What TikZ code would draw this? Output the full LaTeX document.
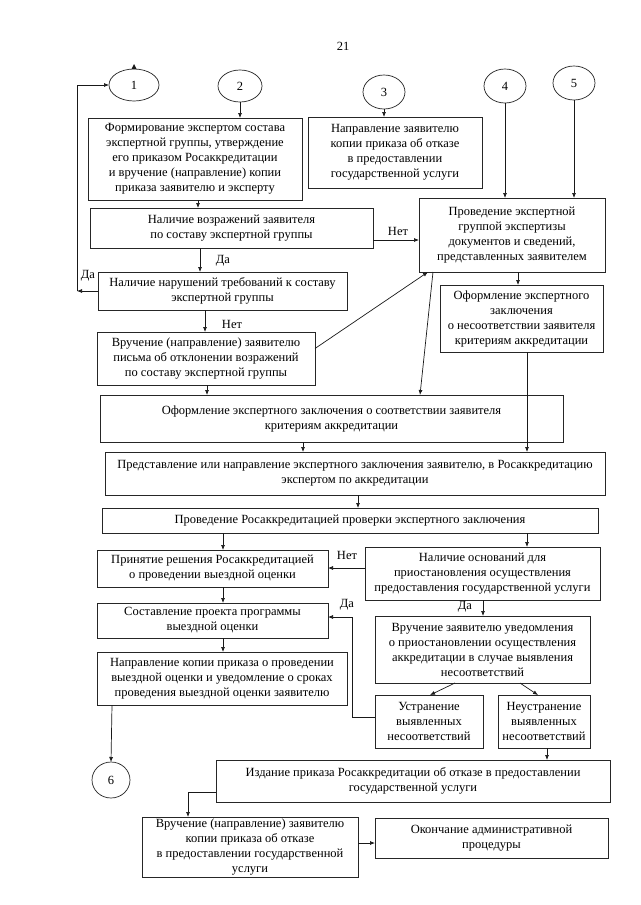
\documentclass[tikz,border=0pt]{standalone}
\usepackage{fontspec}
\setmainfont{Liberation Serif}
\usetikzlibrary{arrows.meta,shapes.geometric}
\newcommand\boxat[6]{\node[box, anchor=north west, minimum width={(#4-#2)*1pt}, minimum height={(#5-#3)*1pt}] (#1) at (#2,#3) {#6};}
\begin{document}
\begin{tikzpicture}[x=1pt,y=-1pt,
  box/.style={draw=black!85, line width=0.7pt, inner sep=0pt, outer sep=0pt, align=center, font=\fontsize{12.5}{15}\selectfont},
  circ/.style={draw=black!85, line width=0.7pt, shape=ellipse, inner sep=0pt, outer sep=0pt, font=\fontsize{12.5}{14}\selectfont},
  arr/.style={draw=black!90, line width=0.7pt, -{Latex[length=5pt,width=4pt]}},
  lbl/.style={font=\fontsize{12.5}{14}\selectfont, inner sep=0pt}]
\useasboundingbox (0,0) rectangle (640,905);
\fill[white] (0,0) rectangle (640,905);

\node[lbl] (pg) at (343,46) {21};

% circles
\node[circ, minimum width=50pt, minimum height=32pt] (C1) at (134,85) {1};
\node[circ, minimum width=44pt, minimum height=32pt] (C2) at (240,86) {2};
\node[circ, minimum width=42pt, minimum height=34pt] (C3) at (384,92) {3};
\node[circ, minimum width=42pt, minimum height=34pt] (C4) at (505,86) {4};
\node[circ, minimum width=42pt, minimum height=34pt] (C5) at (574,83) {5};
\node[circ, minimum width=38pt, minimum height=36pt] (C6) at (111,780) {6};

% boxes
\boxat{A}{88}{118}{302}{200}{Формирование экспертом состава\\экспертной группы, утверждение\\его приказом Росаккредитации\\и вручение (направление) копии\\приказа заявителю и эксперту}
\boxat{B}{308}{117}{482}{188}{Направление заявителю\\копии приказа об отказе\\в предоставлении\\государственной услуги}
\boxat{C}{90}{208}{373}{248}{Наличие возражений заявителя\\по составу экспертной группы}
\boxat{D}{419}{198}{605}{272}{Проведение экспертной\\группой экспертизы\\документов и сведений,\\представленных заявителем}
\boxat{E}{98}{272}{347}{310}{Наличие нарушений требований к составу\\экспертной группы}
\boxat{F}{97}{332}{315}{385}{Вручение (направление) заявителю\\письма об отклонении возражений\\по составу экспертной группы}
\boxat{H}{440}{285}{603}{352}{Оформление экспертного\\заключения\\о несоответствии заявителя\\критериям аккредитации}
\boxat{G}{100}{395}{563}{442}{Оформление экспертного заключения о соответствии заявителя\\критериям аккредитации}
\boxat{I}{105}{452}{605}{495}{Представление или направление экспертного заключения заявителю, в Росаккредитацию\\экспертом по аккредитации}
\boxat{J}{102}{508}{598}{533}{Проведение Росаккредитацией проверки экспертного заключения}
\boxat{K}{97}{550}{328}{587}{Принятие решения Росаккредитацией\\о проведении выездной оценки}
\boxat{L}{365}{547}{600}{600}{Наличие оснований для\\приостановления осуществления\\предоставления государственной услуги}
\boxat{M}{97}{603}{328}{638}{Составление проекта программы\\выездной оценки}
\boxat{N}{97}{652}{347}{705}{Направление копии приказа о проведении\\выездной оценки и уведомление о сроках\\проведения выездной оценки заявителю}
\boxat{O}{375}{616}{590}{683}{Вручение заявителю уведомления\\о приостановлении осуществления\\аккредитации в случае выявления\\несоответствий}
\boxat{P}{375}{695}{483}{748}{Устранение\\выявленных\\несоответствий}
\boxat{Q}{498}{695}{590}{748}{Неустранение\\выявленных\\несоответствий}
\boxat{R}{216}{760}{610}{802}{Издание приказа Росаккредитации об отказе в предоставлении\\государственной услуги}
\boxat{S}{142}{817}{358}{877}{Вручение (направление) заявителю\\копии приказа об отказе\\в предоставлении государственной\\услуги}
\boxat{T}{375}{818}{608}{858}{Окончание административной\\процедуры}

% small arrowhead on top of circle 1
\fill[black!90] ([xshift=-2.5pt]C1.north) -- ([xshift=2.5pt]C1.north) -- ([yshift=5pt]C1.north) -- cycle;

% connectors
\draw[arr] (C2.south) -- (A.north -| C2.south);
\draw[arr] (C3.south) -- (B.north -| C3.south);
\draw[arr] (C4.south) -- (D.north -| C4.south);
\draw[arr] (C5.south) -- (D.north -| C5.south);
\draw[arr] (A.south -| 198,0) -- (C.north -| 198,0);
\draw[arr] (C.east |- 0,240) -- (D.west |- 0,240);
\node[lbl] (netCD) at (398,231) {Нет};
\draw[arr] (C.south -| 200,0) -- (E.north -| 200,0);
\node[lbl] (daCE) at (223,261) {Да};
\coordinate (lpA) at (77,291);
\coordinate (lpB) at (77,85);
\draw[arr] (E.west) -- (lpA);
\draw[arr] (lpA) -- (lpB) -- (C1.west);
\node[lbl] (daE) at (88,276) {Да};
\draw[arr] (E.south -| 205,0) -- (F.north -| 205,0);
\node[lbl] (netEF) at (232,324) {Нет};
\draw[arr] ([yshift=10pt]F.east) -- (D.south -| 428,0);
\draw[arr] (D.south -| 433,0) -- (G.north -| 420,0);
\draw[arr] (D.south -| 518,0) -- (H.north -| 518,0);
\draw[arr] (F.south -| 207,0) -- (G.north -| 207,0);
\draw[arr] (H.south -| 527,0) -- (I.north -| 527,0);
\draw[arr] (G.south -| 303,0) -- (I.north -| 303,0);
\draw[arr] (I.south -| 358,0) -- (J.north -| 358,0);
\draw[arr] (J.south -| 223,0) -- (K.north -| 223,0);
\draw[arr] (J.south -| 527,0) -- (L.north -| 527,0);
\draw[arr] (L.west |- 0,568) -- (K.east |- 0,568);
\node[lbl] (netLK) at (347,555) {Нет};
\draw[arr] (K.south -| 223,0) -- (M.north -| 223,0);
\draw[arr] (M.south -| 223,0) -- (N.north -| 223,0);
\draw[arr] (L.south -| 483,0) -- (O.north -| 483,0);
\node[lbl] (daLO) at (465,607) {Да};
\draw[arr] (O.south -| 455,0) -- (P.north -| 430,0);
\draw[arr] (O.south -| 520,0) -- (Q.north -| 538,0);
\coordinate (pm1) at (352,717);
\coordinate (pm2) at (352,617);
\draw[arr] (P.west |- pm1) -- (pm1) -- (pm2) -- (M.east |- pm2);
\node[lbl] (daPM) at (347,605) {Да};
\draw[arr] (N.south -| 112,0) -- (C6.north);
\draw[arr] (Q.south -| 547,0) -- (R.north -| 547,0);
\coordinate (rs) at (188,792);
\draw[arr] (R.west |- rs) -- (rs) -- (S.north -| rs);
\draw[arr] (S.east |- 0,843) -- (T.west |- 0,843);
\end{tikzpicture}
\end{document}
